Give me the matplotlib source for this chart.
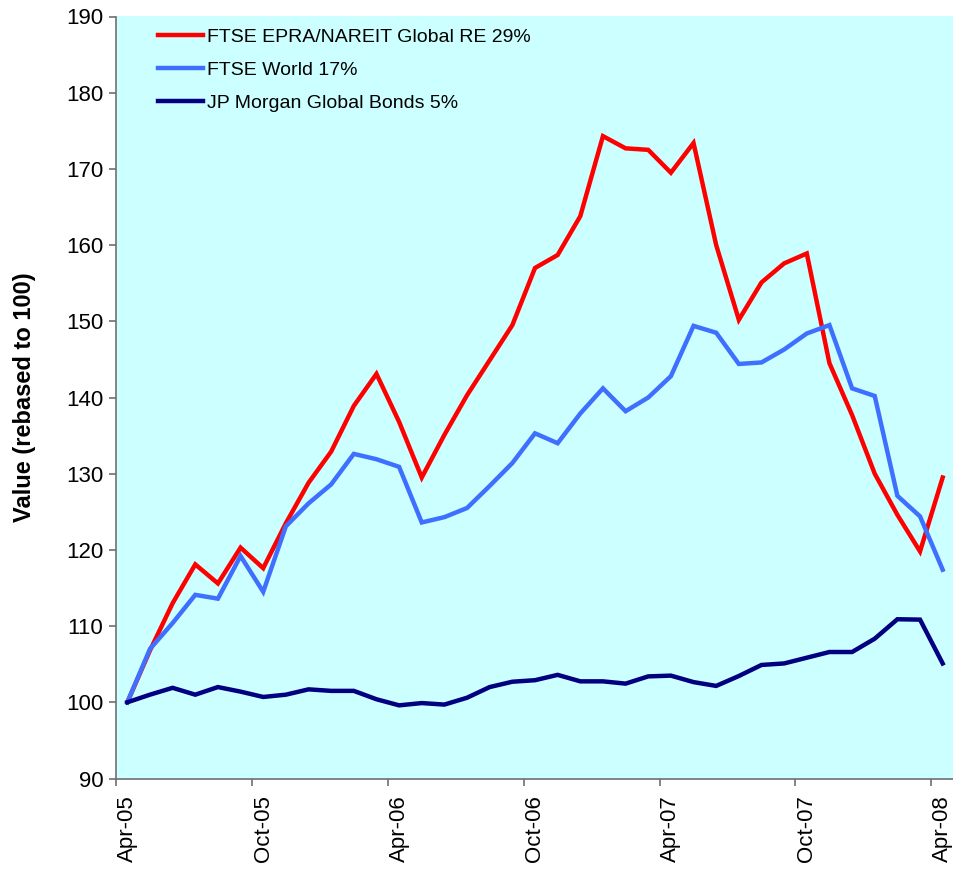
import numpy as np
import matplotlib
matplotlib.use('Agg')
import matplotlib.pyplot as plt

plt.rcParams['font.family'] = ['Liberation Sans', 'DejaVu Sans']

# monthly values, Apr-05 .. Apr-08, rebased to 100
reit = [100.0, 106.8, 113.0, 118.1, 115.6, 120.3, 117.6, 123.5, 128.8, 132.9,
        138.9, 143.1, 136.8, 129.5, 135.1, 140.3, 144.9, 149.5, 157.0, 158.7,
        163.8, 174.3, 172.7, 172.5, 169.5, 173.4, 160.0, 150.2, 155.1, 157.6,
        158.9, 144.5, 137.7, 130.0, 124.6, 119.8, 129.5]
world = [100.0, 107.0, 110.4, 114.1, 113.6, 119.2, 114.5, 123.1, 126.1, 128.6,
         132.6, 131.9, 130.9, 123.6, 124.3, 125.5, 128.4, 131.4, 135.3, 134.0,
         137.9, 141.2, 138.2, 140.0, 142.8, 149.4, 148.5, 144.4, 144.6, 146.3,
         148.4, 149.5, 141.2, 140.2, 127.1, 124.4, 117.4]
bonds = [100.0, 101.0, 101.9, 101.0, 102.0, 101.4, 100.7, 101.0, 101.7, 101.5,
         101.5, 100.4, 99.6, 99.9, 99.7, 100.6, 102.0, 102.7, 102.9, 103.6,
         102.75, 102.75, 102.45, 103.4, 103.5, 102.65, 102.15, 103.45, 104.9, 105.1,
         105.85, 106.6, 106.6, 108.35, 110.9, 110.85, 105.1]

series_names = ['FTSE EPRA/NAREIT Global RE 29%', 'FTSE World 17%', 'JP Morgan Global Bonds 5%']
tick_labels = ['Apr-05', 'Oct-05', 'Apr-06', 'Oct-06', 'Apr-07', 'Oct-07', 'Apr-08']

x = np.arange(len(reit))

fig = plt.figure(figsize=(9.54, 8.71), dpi=100)
ax = fig.add_axes([116/954, 92.5/871, 838/954, 762/871])
ax.set_facecolor('#CCFFFF')

ax.plot(x, reit, color='#FF0000', lw=3.2, label=series_names[0], solid_joinstyle='miter')
ax.plot(x, world, color='#3F6FFF', lw=3.2, label=series_names[1], solid_joinstyle='miter')
ax.plot(x, bonds, color='#000080', lw=3.2, label=series_names[2], solid_joinstyle='miter')

ax.set_xlim(-0.5, len(x) - 0.5)
ax.set_ylim(90, 190)
ax.set_yticks(range(90, 191, 10))

# labels on the categories, tick marks between them
ax.set_xticks(x[::6])
ax.set_xticklabels(tick_labels, rotation=90, fontsize=16)
ax.set_xticks(np.arange(-0.5, len(x), 6), minor=True)
ax.tick_params(axis='x', which='major', length=0, pad=12)
ax.tick_params(axis='x', which='minor', length=5, color='#707070', width=1.2)
ax.tick_params(axis='y', length=5, color='#707070', width=1.2, pad=4, labelsize=16)

for s in ['top', 'right']:
    ax.spines[s].set_visible(False)
for s in ['left', 'bottom']:
    ax.spines[s].set_color('#707070')
    ax.spines[s].set_linewidth(1.2)

ax.set_ylabel('Value (rebased to 100)', fontsize=17, fontweight='bold', labelpad=22)

ax.legend(loc='upper left', bbox_to_anchor=(0.032, 1.005), frameon=False, fontsize=14,
          handlelength=2.3, handletextpad=0.2, labelspacing=0.8, borderaxespad=0.4)

fig.savefig('out.png', dpi=100)
